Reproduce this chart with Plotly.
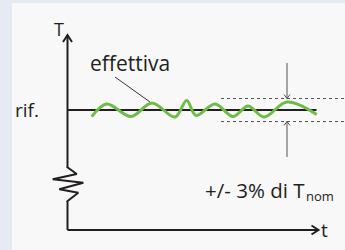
import plotly.graph_objects as go

# ---- data (t = time units from origin, T = temperature units from origin) ----
wave_t = [24.2, 39.2, 63.5, 84.5, 107.5, 119.2, 128.5, 147.5, 165.5, 180.5, 196.5, 219.5, 249.2]
wave_T = [113.3, 126.0, 113.5, 127.0, 113.0, 129.5, 114.5, 126.0, 113.5, 124.0, 113.0, 128.0, 115.5]

T_rif = 120.0
band = 11.5
t_end_rif = 249.0
t_axis_end = 251.0
T_axis_end = 195.0

# resistor zig-zag on the T axis
axisT_t = [0, 0, -0.8, 10.8, -8.2, 15.8, -14.8, 9.2, -0.8, 0, 0]
axisT_T = [0, 28.3, 28.3, 37.3, 40.7, 47.3, 50.7, 56.0, 63.3, 63.3, T_axis_end]

band_t = [153.5, 277.5]
arrow_t = 219.5
arrow_up_from = 167.0
arrow_dn_from = 73.0

leader_t = [47.5, 82.5]
leader_T = [153.0, 128.0]

DARK = "#231f20"
GREEN = "#6cbd45"
GREY = "#555555"

fig = go.Figure()

def line(x, y, color, width, dash=None):
    fig.add_trace(go.Scatter(x=x, y=y, mode="lines", hoverinfo="skip",
                             line=dict(color=color, width=width, dash=dash),
                             showlegend=False))

# axes
line(axisT_t, axisT_T, DARK, 2)
line([0, t_axis_end], [0, 0], DARK, 2)
# arrow heads (chevrons)
line([-4.5, 0, 4.5], [T_axis_end - 7, T_axis_end, T_axis_end - 7], DARK, 2)
line([t_axis_end - 7, t_axis_end, t_axis_end - 7], [4.5, 0, -4.5], DARK, 2)

# reference line
line([0, t_end_rif], [T_rif, T_rif], DARK, 2)

# tolerance band
line(band_t, [T_rif + band, T_rif + band], GREY, 1, "3px,3px")
line(band_t, [T_rif - band, T_rif - band], GREY, 1, "3px,3px")

# band arrows
line([arrow_t, arrow_t], [arrow_up_from, T_rif + band], GREY, 1)
line([arrow_t - 3, arrow_t, arrow_t + 3], [T_rif + band + 4, T_rif + band, T_rif + band + 4], GREY, 1)
line([arrow_t, arrow_t], [arrow_dn_from, T_rif - band], GREY, 1)
line([arrow_t - 3, arrow_t, arrow_t + 3], [T_rif - band - 4, T_rif - band, T_rif - band - 4], GREY, 1)

# leader line
line(leader_t, leader_T, "#333333", 1)

# actual temperature
fig.add_trace(go.Scatter(x=wave_t, y=wave_T, mode="lines", hoverinfo="skip",
                         line=dict(color=GREEN, width=3, shape="spline", smoothing=1.0),
                         showlegend=False))

FONT = "Open Sans"

def label(x, y, text, size, xanchor="center"):
    fig.add_annotation(x=x, y=y, text=text, showarrow=False, xanchor=xanchor,
                       yanchor="middle", font=dict(family=FONT, size=size, color=DARK))

label(-8.2, 201, "T", 18)
label(257, 0, "t", 19)
label(-41, 120, "rif.", 19)
label(62.5, 167, "effettiva", 21)
label(135.5, 40, "+/- 3% di T", 20.5, "left")
label(236, 34, "nom", 13, "left")

fig.add_shape(type="rect", xref="paper", yref="paper", x0=12 / 345, x1=1, y0=0, y1=1 - 3 / 250,
              fillcolor="#f8f8f8", line=dict(width=0), layer="below")

fig.update_layout(
    width=345, height=250, margin=dict(l=0, r=0, t=0, b=0),
    paper_bgcolor="#e6ebf3", plot_bgcolor="rgba(0,0,0,0)",
    xaxis=dict(range=[-67.5, 277.5], visible=False, fixedrange=True),
    yaxis=dict(range=[-20, 230], visible=False, fixedrange=True),
)

fig.write_html("out.html", config={"displayModeBar": False},
               post_script="document.body.style.margin='0';document.body.style.overflow='hidden';")
